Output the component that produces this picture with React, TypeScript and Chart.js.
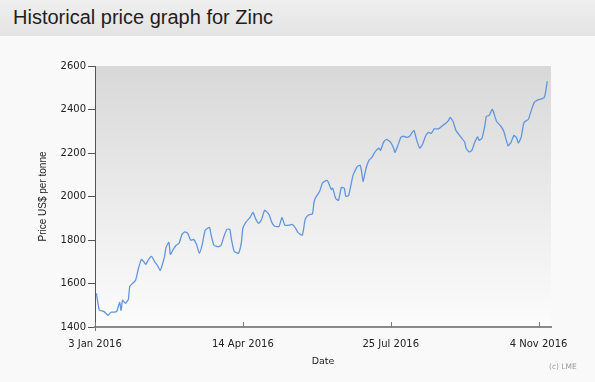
import React, { useEffect, useRef } from "react";
import { Chart, registerables } from "chart.js";

Chart.register(...registerables);

const titleText = "Historical price graph for Zinc";
const yAxisTitle = "Price US$ per tonne";
const xAxisTitle = "Date";
const creditText = "(c) LME";

// days since 3 Jan 2016
const tickDays = [0, 102, 204, 306];
const tickLabels = ["3 Jan 2016", "14 Apr 2016", "25 Jul 2016", "4 Nov 2016"];
const yTicks = [1400, 1600, 1800, 2000, 2200, 2400, 2600];

const days = [
  1, 3, 6, 9, 11, 13, 15, 17, 18, 19, 21, 23, 24, 26, 28, 30, 32, 34, 35, 37, 39, 41, 43, 45, 48, 49,
  51, 52, 54, 56, 58, 60, 62, 64, 66, 68, 70, 72, 74, 76, 79, 80, 82, 85, 87, 89, 91, 93, 94, 96, 99,
  101, 102, 104, 107, 109, 111, 113, 115, 117, 120, 122, 124, 127, 129, 131, 134, 136, 138, 140, 143,
  144, 145, 147, 150, 151, 152, 153, 155, 157, 160, 161, 163, 164, 166, 168, 170, 172, 173, 175, 178,
  181, 183, 184, 185, 187, 189, 191, 193, 196, 197, 199, 201, 204, 206, 207, 209, 211, 213, 215, 217,
  220, 222, 224, 226, 228, 230, 232, 234, 237, 240, 242, 244, 245, 247, 249, 252, 255, 256, 258, 260,
  262, 264, 265, 267, 269, 270, 272, 274, 275, 277, 280, 282, 285, 287, 289, 291, 292, 294, 296, 299,
  301, 303, 305, 308, 310, 311, 312,
];

const prices = [
  1555, 1477, 1472, 1454, 1468, 1468, 1472, 1513, 1477, 1523, 1509, 1527, 1587, 1601, 1615, 1670, 1711,
  1697, 1688, 1711, 1725, 1702, 1684, 1661, 1725, 1766, 1789, 1734, 1757, 1776, 1785, 1826, 1837, 1831,
  1799, 1803, 1780, 1739, 1780, 1845, 1858, 1826, 1776, 1769, 1776, 1817, 1849, 1849, 1808, 1748, 1739,
  1789, 1854, 1881, 1904, 1927, 1895, 1877, 1895, 1937, 1918, 1881, 1863, 1863, 1904, 1868, 1868, 1872,
  1858, 1835, 1822, 1854, 1895, 1914, 1920, 1969, 1992, 2003, 2024, 2063, 2074, 2065, 2033, 2038, 1992,
  1982, 2042, 2038, 2001, 2005, 2097, 2139, 2143, 2111, 2070, 2130, 2166, 2180, 2203, 2222, 2212, 2249,
  2263, 2249, 2222, 2203, 2235, 2272, 2277, 2272, 2277, 2304, 2258, 2222, 2240, 2277, 2295, 2290, 2311,
  2311, 2327, 2337, 2350, 2364, 2346, 2304, 2277, 2251, 2222, 2205, 2212, 2249, 2274, 2258, 2268, 2327,
  2369, 2373, 2401, 2387, 2346, 2323, 2300, 2233, 2249, 2281, 2268, 2245, 2272, 2341, 2355, 2396, 2433,
  2442, 2449, 2456, 2484, 2530,
];

const X_MAX_DAY = 314.6;

const plotBgPlugin = {
  id: "plotBg",
  beforeDraw(chart: any) {
    const { ctx, chartArea } = chart;
    if (!chartArea) return;
    const g = ctx.createLinearGradient(0, chartArea.top, 0, chartArea.bottom);
    g.addColorStop(0, "#d8d8d8");
    g.addColorStop(1, "#fcfcfc");
    ctx.save();
    ctx.fillStyle = g;
    ctx.fillRect(chartArea.left, chartArea.top, chartArea.right - chartArea.left, chartArea.bottom - chartArea.top);
    ctx.restore();
  },
  afterDraw(chart: any) {
    const { ctx, chartArea } = chart;
    const xs = chart.scales.x;
    ctx.save();
    ctx.strokeStyle = "#777";
    ctx.lineWidth = 1;
    for (const d of tickDays) {
      const px = Math.round(xs.getPixelForValue(d)) + 0.5;
      ctx.beginPath();
      ctx.moveTo(px, chartArea.bottom - 5);
      ctx.lineTo(px, chartArea.bottom + (d === 0 ? 4 : 0));
      ctx.stroke();
    }
    ctx.restore();
  },
};

export default function App() {
  const canvasRef = useRef<HTMLCanvasElement | null>(null);

  useEffect(() => {
    if (!canvasRef.current) return;
    const chart = new Chart(canvasRef.current, {
      type: "line",
      data: {
        datasets: [
          {
            data: days.map((d, i) => ({ x: d, y: prices[i] })),
            borderColor: "#5f96df",
            borderWidth: 1.3,
            pointRadius: 0,
            fill: false,
            tension: 0.15,
          },
        ],
      },
      plugins: [plotBgPlugin],
      options: {
        responsive: false,
        animation: false,
        layout: { padding: { left: 0, right: 44, top: 30, bottom: 0 } },
        plugins: { legend: { display: false }, tooltip: { enabled: false }, title: { display: false } },
        scales: {
          x: {
            type: "linear",
            min: 0,
            max: X_MAX_DAY,
            afterBuildTicks: (scale: any) => {
              scale.ticks = tickDays.map((v) => ({ value: v }));
            },
            afterFit: (scale: any) => {
              scale.height = 55;
            },
            ticks: {
              autoSkip: false,
              maxRotation: 0,
              padding: 6,
              color: "#222",
              font: { family: "DejaVu Sans", size: 10 },
              callback: (v: any) => {
                const i = tickDays.indexOf(Number(v));
                return i >= 0 ? tickLabels[i] : "";
              },
            },
            grid: { display: true, drawOnChartArea: false, drawTicks: true, tickLength: 5, color: "rgba(0,0,0,0)" },
            border: { display: true, color: "#8a8a8a", width: 2 },
            title: {
              display: true,
              text: xAxisTitle,
              color: "#222",
              font: { family: "DejaVu Sans", size: 9.5 },
              padding: { top: 0, bottom: 15 },
            },
          },
          y: {
            type: "linear",
            min: 1400,
            max: 2600,
            afterBuildTicks: (scale: any) => {
              scale.ticks = yTicks.map((v) => ({ value: v }));
            },
            afterFit: (scale: any) => {
              scale.width = 95;
            },
            ticks: {
              padding: 2,
              color: "#222",
              font: { family: "DejaVu Sans", size: 10 },
              callback: (v: any) => String(v),
            },
            grid: { display: true, drawOnChartArea: false, drawTicks: true, tickLength: 7, color: "#555" },
            border: { display: true, color: "#555", width: 1 },
            title: {
              display: true,
              text: yAxisTitle,
              color: "#222",
              font: { family: "Liberation Sans", size: 10 },
              padding: { top: 37, bottom: 0 },
            },
          },
        },
      },
    } as any);
    return () => chart.destroy();
  }, []);

  return (
    <div style={{ position: "fixed", left: 0, top: 0, width: 595, height: 382, background: "#f9f9f9", overflow: "hidden" }}>
      <div
        style={{
          position: "absolute",
          left: 0,
          top: 0,
          width: 595,
          height: 36,
          background: "linear-gradient(#efefef, #e3e3e3)",
        }}
      >
        <span
          style={{
            position: "absolute",
            left: 13,
            top: 7,
            fontFamily: "'Liberation Sans', Arial, sans-serif",
            fontSize: 20,
            lineHeight: "20px",
            color: "#1e1e1e",
            whiteSpace: "nowrap",
          }}
        >
          {titleText}
        </span>
      </div>
      <canvas ref={canvasRef} width={595} height={346} style={{ position: "absolute", left: 0, top: 36, width: 595, height: 346 }} />
      <span
        style={{
          position: "absolute",
          left: 549,
          top: 362,
          fontFamily: "'DejaVu Sans', sans-serif",
          fontSize: 7.5,
          lineHeight: "10px",
          color: "#999",
          whiteSpace: "nowrap",
        }}
      >
        {creditText}
      </span>
    </div>
  );
}
